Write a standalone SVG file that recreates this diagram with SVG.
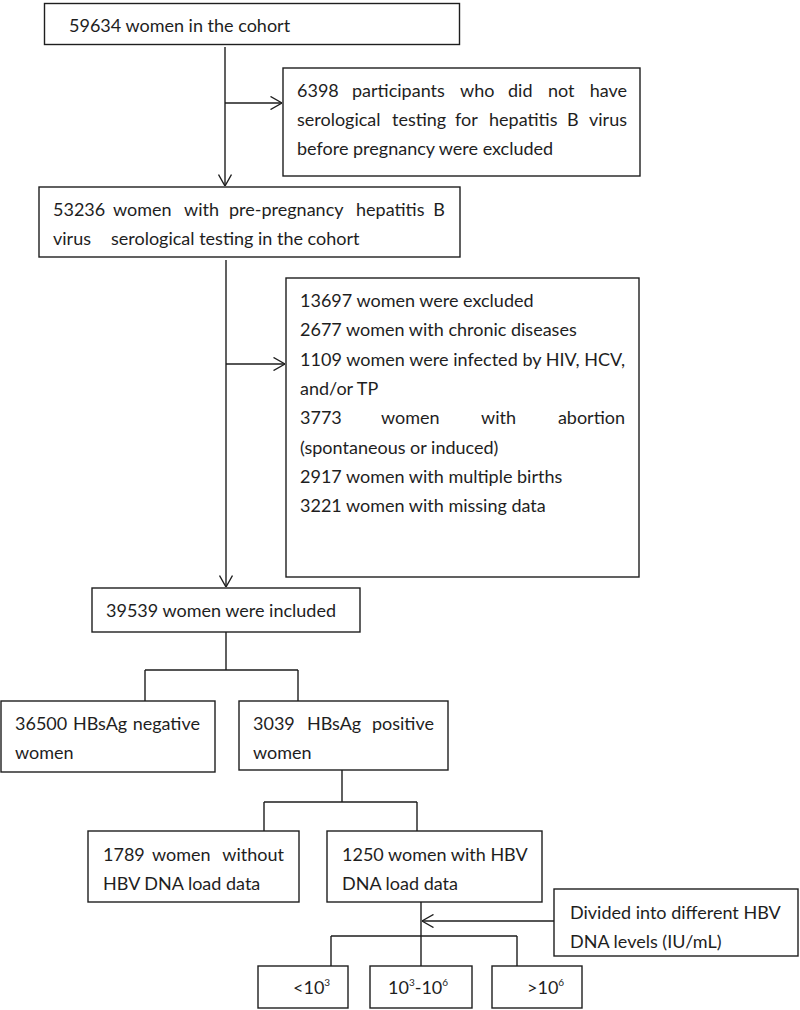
<svg xmlns="http://www.w3.org/2000/svg" width="800" height="1010" viewBox="0 0 800 1010">
<defs>
<style>
.box{fill:#fff;stroke:#1e1e1e;stroke-width:1.4}
.t{font-family:Lato,"Liberation Sans",sans-serif;font-size:18px;fill:#1e1e1e}
.sup{font-size:10px}
.e{text-anchor:end}
.ln{fill:none;stroke:#1e1e1e;stroke-width:1.4}
</style>
<marker id="ah" viewBox="0 0 12 14" refX="12" refY="7" markerWidth="12" markerHeight="14" markerUnits="userSpaceOnUse" orient="auto">
<path d="M0.5,0.5 L12,7 L0.5,13.5" fill="none" stroke="#1e1e1e" stroke-width="1.4"/>
</marker>
</defs>
<rect width="800" height="1010" fill="#fff"/>
<g id="connectors">
<path class="ln" d="M225,47 V186" marker-end="url(#ah)"/>
<path class="ln" d="M225,103 H282" marker-end="url(#ah)"/>
<path class="ln" d="M226,260 V587" marker-end="url(#ah)"/>
<path class="ln" d="M226,364 H285" marker-end="url(#ah)"/>
<path class="ln" d="M226,632 V670 M145,670 H298 M145,670 V701 M298,670 V701"/>
<path class="ln" d="M342,770 V802 M264,802 H417 M264,802 V831 M417,802 V831"/>
<path class="ln" d="M421,897 V966 M331,936 H517 M331,936 V966 M517,936 V966"/>
<path class="ln" d="M554,921 H422" marker-end="url(#ah)"/>
</g>
<g id="n1">
<rect class="box" x="44.5" y="3.5" width="415" height="41"/>
<text class="t" x="69" y="32">59634 women in the cohort</text>
</g>
<g id="n2">
<rect class="box" x="283" y="68" width="357" height="108"/>
<text class="t" y="97"><tspan x="297">6398</tspan><tspan x="352">participants</tspan><tspan x="460">who</tspan><tspan x="508">did</tspan><tspan x="548">not</tspan></text>
<text class="t e" x="627" y="97">have</text>
<text class="t" y="126"><tspan x="297">serological</tspan><tspan x="392">testing</tspan><tspan x="455">for</tspan><tspan x="489">hepatitis</tspan><tspan x="567">B</tspan></text>
<text class="t e" x="627" y="126">virus</text>
<text class="t" x="297" y="155">before pregnancy were excluded</text>
</g>
<g id="n3">
<rect class="box" x="39" y="187" width="421" height="70"/>
<text class="t" y="216"><tspan x="53">53236</tspan><tspan x="113">women</tspan><tspan x="184">with</tspan><tspan x="229">pre-pregnancy</tspan><tspan x="356">hepatitis</tspan></text>
<text class="t e" x="445" y="216">B</text>
<text class="t" y="245"><tspan x="53">virus</tspan><tspan x="111">serological testing in the cohort</tspan></text>
</g>
<g id="n4">
<rect class="box" x="286" y="278" width="353" height="299"/>
<text class="t" x="300" y="307">13697 women were excluded</text>
<text class="t" x="300" y="336">2677 women with chronic diseases</text>
<text class="t" x="300" y="365.5" textLength="325" lengthAdjust="spacing">1109 women were infected by HIV, HCV,</text>
<text class="t" x="300" y="395">and/or TP</text>
<text class="t" y="424"><tspan x="300">3773</tspan><tspan x="381">women</tspan><tspan x="481">with</tspan></text>
<text class="t e" x="625" y="424">abortion</text>
<text class="t" x="300" y="453.5">(spontaneous or induced)</text>
<text class="t" x="300" y="483">2917 women with multiple births</text>
<text class="t" x="300" y="512">3221 women with missing data</text>
</g>
<g id="n5">
<rect class="box" x="92" y="588" width="268" height="44"/>
<text class="t" x="106" y="617">39539 women were included</text>
</g>
<g id="n6">
<rect class="box" x="1" y="701" width="214" height="71"/>
<text class="t" y="730"><tspan x="15">36500</tspan><tspan x="73">HBsAg</tspan></text>
<text class="t e" x="200" y="730">negative</text>
<text class="t" x="15" y="759">women</text>
</g>
<g id="n7">
<rect class="box" x="239" y="701" width="209" height="69"/>
<text class="t" y="730"><tspan x="253">3039</tspan><tspan x="307">HBsAg</tspan></text>
<text class="t e" x="434" y="730">positive</text>
<text class="t" x="253" y="759">women</text>
</g>
<g id="n8">
<rect class="box" x="88" y="831" width="211" height="71"/>
<text class="t" y="861"><tspan x="103">1789</tspan><tspan x="152">women</tspan></text>
<text class="t e" x="284" y="861">without</text>
<text class="t" x="103" y="890">HBV DNA load data</text>
</g>
<g id="n9">
<rect class="box" x="327" y="831" width="215" height="71"/>
<text class="t" x="342" y="861">1250 women with HBV</text>
<text class="t" x="342" y="890">DNA load data</text>
</g>
<g id="n10">
<rect class="box" x="554" y="889" width="244" height="67"/>
<text class="t" x="570" y="919">Divided into different HBV</text>
<text class="t" x="570" y="948">DNA levels (IU/mL)</text>
</g>
<g id="n11">
<rect class="box" x="258" y="966" width="90" height="42"/>
<text class="t" x="293" y="994">&lt;10<tspan class="sup" dy="-8">3</tspan></text>
</g>
<g id="n12">
<rect class="box" x="370" y="966" width="102" height="42"/>
<text class="t" x="388" y="994">10<tspan class="sup" dy="-8">3</tspan><tspan dy="8">-10</tspan><tspan class="sup" dy="-8">6</tspan></text>
</g>
<g id="n13">
<rect class="box" x="492" y="966" width="90" height="42"/>
<text class="t" x="527" y="994">&gt;10<tspan class="sup" dy="-8">6</tspan></text>
</g>
</svg>
